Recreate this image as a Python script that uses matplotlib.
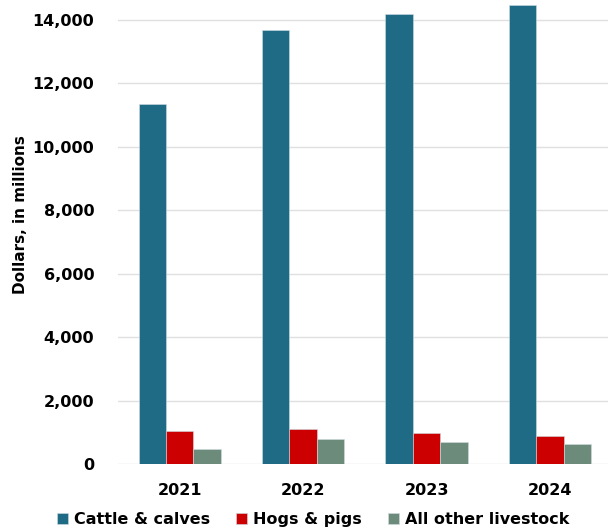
import matplotlib
matplotlib.use("Agg")
import matplotlib.pyplot as plt
import numpy as np

years = ["2021", "2022", "2023", "2024"]
cattle = [11345, 13695, 14190, 14485]
hogs = [1030, 1095, 980, 895]
other = [475, 780, 685, 630]
series_names = ["Cattle & calves", "Hogs & pigs", "All other livestock"]
colors = ["#1f6a84", "#cc0000", "#6d8b7a"]
yticks = [0, 2000, 4000, 6000, 8000, 10000, 12000, 14000]

plt.rcParams['font.family'] = ['DejaVu Sans']
fig = plt.figure(figsize=(6.08, 5.31), dpi=100)
ax = fig.add_axes([118/608, 67/531, 1 - 118/608, 464/531])

x = np.arange(len(years))
w = 0.222
for i, (vals, name, c) in enumerate(zip([cattle, hogs, other], series_names, colors)):
    ax.bar(x + (i - 1) * w, vals, width=w, color=c, label=name,
           edgecolor="#cfdde3", linewidth=0.4, zorder=3)

ax.set_xlim(-0.5, 3.47)
ax.set_ylim(0, 14630)
ax.set_yticks(yticks)
ax.set_yticklabels([f"{v:,}" for v in yticks], fontsize=11.5, fontweight='bold')
ax.set_xticks(x)
ax.set_xticklabels(years, fontsize=11.5, fontweight='bold')
ax.tick_params(axis='both', length=0)
ax.tick_params(axis='y', pad=17)
ax.tick_params(axis='x', pad=14)
ax.grid(axis='y', color="#e0e0e0", linewidth=1, zorder=0)
for s in ax.spines.values():
    s.set_visible(False)
ax.set_ylabel("Dollars, in millions", fontsize=11, fontweight='bold')
ax.yaxis.set_label_coords(-0.184, 0.537)

leg = fig.legend(loc='center', bbox_to_anchor=(0.515, 0.022), ncol=3, frameon=False,
                 prop={'size': 11.5, 'weight': 'bold'}, handlelength=0.7, handleheight=0.7,
                 handletextpad=0.4, columnspacing=1.6)
fig.savefig("out.png", dpi=100)
